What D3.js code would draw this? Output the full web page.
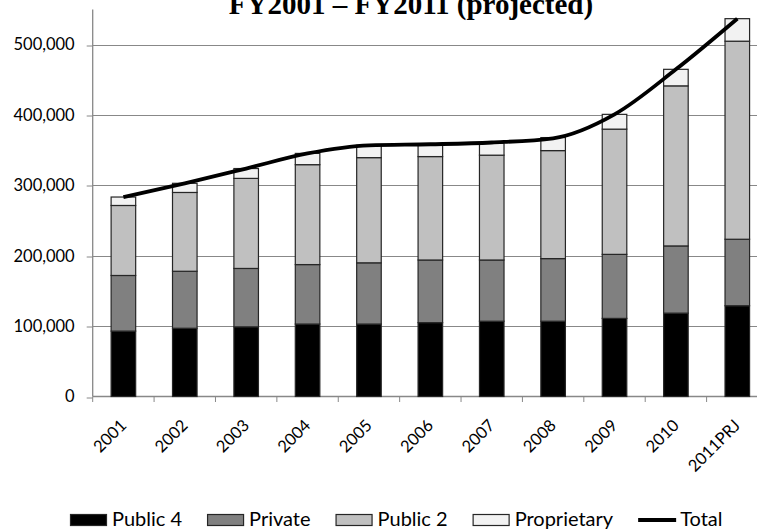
<!DOCTYPE html>
<html>
<head>
<meta charset="utf-8">
<script src="https://cdn.jsdelivr.net/npm/d3@7"></script>
<style>
  html, body { margin: 0; padding: 0; background: #fff; overflow: hidden; }
  svg { display: block; }
</style>
</head>
<body>
<svg id="chart" width="757" height="529"></svg>
<script>
// ---- data ----
const categories = ["2001","2002","2003","2004","2005","2006","2007","2008","2009","2010","2011PRJ"];
const public4     = [93000, 97000, 99000, 103000, 103000, 105000, 107000, 107000, 111000, 118500, 129000];
const privateVals = [79000, 81000, 83000, 84500, 87000, 89000, 87000, 89000, 91000, 95500, 94500];
const public2     = [99500, 112000, 128000, 142000, 149500, 147000, 149000, 153500, 178000, 227500, 281500];
const proprietary = [12000, 13000, 14000, 16000, 17500, 16000, 17000, 18500, 21000, 23500, 32000];
const total       = [283500, 303000, 324000, 345500, 357000, 358500, 361000, 367000, 401000, 465000, 537000];
const yTicks      = [0, 100000, 200000, 300000, 400000, 500000];
const seriesNames = ["Public 4", "Private", "Public 2", "Proprietary"];
const titleText   = "FY2001 \u2013 FY2011 (projected)";

// ---- styles ----
const fills = ["#000000", "#808080", "#c0c0c0", "#f2f2f2"];
const gridColor = "#888888";
const font = "Lato, 'Noto Sans', sans-serif";

const svg = d3.select("#chart");

const plotLeft = 92.7, plotRight = 768, yZero = 396.5;
const x = d3.scaleBand().domain(categories).range([plotLeft, plotRight]).padding(0);
const y = d3.scaleLinear().domain([0, 550000]).range([yZero, yZero - 5.5 * 70.36]);

// stacked data
const rows = categories.map((c, i) => ({
  cat: c,
  "Public 4": public4[i],
  "Private": privateVals[i],
  "Public 2": public2[i],
  "Proprietary": proprietary[i]
}));
const stacked = d3.stack().keys(seriesNames)(rows);

// gridlines
svg.append("g").selectAll("line").data(yTicks.filter(d => d > 0)).join("line")
  .attr("x1", plotLeft).attr("x2", 757)
  .attr("y1", d => Math.round(y(d)) + 0.5).attr("y2", d => Math.round(y(d)) + 0.5)
  .attr("stroke", gridColor).attr("stroke-width", 1);

// y axis
const yAxis = d3.axisLeft(y).tickValues(yTicks).tickSize(6).tickPadding(12)
  .tickFormat(d3.format(","));
const yg = svg.append("g").attr("transform", `translate(${plotLeft},0)`).call(yAxis);
yg.select(".domain").remove();
yg.selectAll(".tick line").attr("stroke", gridColor)
  .attr("transform", function(d){ return `translate(0,${Math.round(y(d)) + 0.5 - y(d)})`; });
yg.selectAll(".tick text").attr("font-family", font).attr("font-size", 16.5).attr("fill", "#000");
svg.append("line")
  .attr("x1", plotLeft).attr("x2", plotLeft)
  .attr("y1", y(550000)).attr("y2", yZero)
  .attr("stroke", gridColor).attr("stroke-width", 1.3);

// x axis line + ticks
svg.append("line").attr("x1", plotLeft).attr("x2", 757)
  .attr("y1", yZero).attr("y2", yZero).attr("stroke", gridColor).attr("stroke-width", 1.3);
svg.append("g").selectAll("line").data(categories.concat(["__end"])).join("line")
  .attr("x1", (d, i) => plotLeft + i * x.step()).attr("x2", (d, i) => plotLeft + i * x.step())
  .attr("y1", yZero).attr("y2", yZero + 5.5).attr("stroke", gridColor).attr("stroke-width", 1);

// x labels
svg.append("g").selectAll("text").data(categories).join("text")
  .attr("transform", d => `translate(${x(d) + x.bandwidth() / 2 + 4},${yZero + 30}) rotate(-45)`)
  .attr("text-anchor", "end")
  .attr("font-family", font).attr("font-size", 16.5).attr("fill", "#000")
  .text(d => d);

// bars
const barW = x.bandwidth() * 0.4;
svg.append("g").selectAll("g").data(stacked).join("g")
  .attr("fill", (d, i) => fills[i])
  .selectAll("rect").data(d => d).join("rect")
  .attr("x", d => x(d.data.cat) + (x.bandwidth() - barW) / 2)
  .attr("width", barW)
  .attr("y", d => y(d[1]))
  .attr("height", d => y(d[0]) - y(d[1]))
  .attr("stroke", "#262626").attr("stroke-width", 1.2);

// total line
const line = d3.line()
  .x((d, i) => x(categories[i]) + x.bandwidth() / 2)
  .y(d => y(d))
  .curve(d3.curveMonotoneX);
svg.append("path").datum(total).attr("d", line)
  .attr("fill", "none").attr("stroke", "#000").attr("stroke-width", 3.8)
  .attr("stroke-linejoin", "round");

// title
svg.append("text").attr("x", 411).attr("y", 13.5).attr("text-anchor", "middle")
  .attr("font-family", "'Liberation Serif', 'Times New Roman', serif")
  .attr("font-weight", "bold").attr("font-size", 29).attr("fill", "#000")
  .text(titleText);

// legend
const legendItems = seriesNames.map((n, i) => ({ name: n, type: "rect", fill: fills[i] }))
  .concat([{ name: "Total", type: "line" }]);
const lg = svg.append("g");
let lx = 70;
legendItems.forEach(item => {
  const g = lg.append("g");
  if (item.type === "rect") {
    g.append("rect").attr("x", lx + 0.5).attr("y", 514.5).attr("width", 36).attr("height", 11)
      .attr("fill", item.fill).attr("stroke", "#262626").attr("stroke-width", 1.2);
  } else {
    g.append("line").attr("x1", lx).attr("x2", lx + 38).attr("y1", 520).attr("y2", 520)
      .attr("stroke", "#000").attr("stroke-width", 3.8);
  }
  const t = g.append("text").attr("x", lx + 42).attr("y", 525.7)
    .attr("font-family", font).attr("font-size", 20).attr("fill", "#000").text(item.name);
  lx = lx + 42 + t.node().getComputedTextLength() + 25;
});
</script>
</body>
</html>
